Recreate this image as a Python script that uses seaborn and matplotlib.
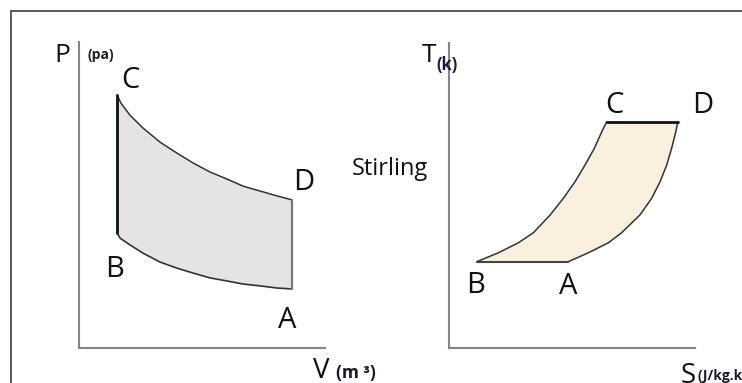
import numpy as np
import matplotlib
matplotlib.use('Agg')
import matplotlib.pyplot as plt
import seaborn as sns
from matplotlib.lines import Line2D

sns.set_style('white')
plt.rcParams['font.family'] = ['Open Sans', 'DejaVu Sans']

# P-V diagram, schematic units
pv_upper_v = [1.55, 1.7, 2.07, 2.6, 3.29, 3.98, 4.63, 5.33, 6.02, 6.67, 7.36, 8.05, 8.66]   # C -> D
pv_upper_p = [8.27, 8.01, 7.61, 7.19, 6.73, 6.37, 6.05, 5.75, 5.52, 5.29, 5.13, 4.97, 4.84]
pv_lower_v = [1.55, 1.67, 2.07, 2.6, 3.29, 3.98, 4.63, 5.33, 6.02, 6.67, 7.36, 8.05, 8.66]  # B -> A
pv_lower_p = [3.76, 3.59, 3.37, 3.1, 2.81, 2.61, 2.45, 2.29, 2.19, 2.09, 2.03, 1.96, 1.93]

# T-S diagram
ts_left_s = [1.13, 2.0, 2.82, 3.43, 4.11, 4.65, 5.12, 5.53, 5.91, 6.21, 6.41]    # B -> C
ts_left_t = [2.83, 3.12, 3.45, 3.78, 4.36, 4.91, 5.45, 6.0, 6.55, 7.09, 7.42]
ts_right_s = [4.85, 5.66, 6.48, 7.02, 7.76, 8.24, 8.58, 8.85, 9.05, 9.22, 9.3]   # A -> D
ts_right_t = [2.83, 3.12, 3.45, 3.78, 4.36, 4.91, 5.45, 6.0, 6.55, 7.09, 7.42]

fig = plt.figure(figsize=(7.42, 3.83), dpi=100)

# thin frame round the picture (top and left only are visible)
fig.add_artist(Line2D([11/742, 1], [1 - 11/383, 1 - 11/383], color='#404040', lw=1.2))
fig.add_artist(Line2D([11/742, 11/742], [0, 1 - 11/383], color='#404040', lw=1.2))

ax1 = fig.add_axes([79/742, 35/383, 246/742, 306/383])
ax2 = fig.add_axes([449/742, 35/383, 246/742, 305/383])
for ax in (ax1, ax2):
    ax.set_xlim(0, 10)
    ax.set_ylim(0, 10)
    ax.set_xticks([])
    ax.set_yticks([])
    ax.patch.set_alpha(0)
    for s in ['top', 'right']:
        ax.spines[s].set_visible(False)
    for s in ['left', 'bottom']:
        ax.spines[s].set_color('#858585')
        ax.spines[s].set_linewidth(1.5)

# ---- P-V ----
ax1.fill(pv_upper_v + pv_lower_v[::-1], pv_upper_p + pv_lower_p[::-1],
         color='#e5e4e2', lw=0)
sns.lineplot(x=pv_upper_v, y=pv_upper_p, sort=False, estimator=None,
             color='#333333', lw=1.1, ax=ax1)
sns.lineplot(x=pv_lower_v, y=pv_lower_p, sort=False, estimator=None,
             color='#333333', lw=1.2, ax=ax1)
ax1.plot([pv_lower_v[0], pv_upper_v[0]], [pv_lower_p[0], pv_upper_p[0]],
         color='#111111', lw=2)
ax1.plot([pv_lower_v[-1], pv_upper_v[-1]], [pv_lower_p[-1], pv_upper_p[-1]],
         color='#7a7a7a', lw=1.6)

big = dict(ha='center', va='baseline', fontsize=21, color='#111111', clip_on=False)
ax1.text(-0.69, 9.35, 'P', **{**big, 'fontsize': 19})
ax1.text(0.89, 9.44, '(pa)', ha='center', va='baseline', fontsize=10,
         fontweight='bold', color='#1a1a2a', clip_on=False)
ax1.text(2.07, 8.5, 'C', **big)
ax1.text(9.15, 5.16, 'D', **big)
ax1.text(1.46, 2.32, 'B', **big)
ax1.text(8.46, 0.65, 'A', **big)
ax1.text(9.84, -0.98, 'V', **{**big, 'fontsize': 20})
ax1.text(11.25, -0.98, '(m ³)', ha='center', va='baseline', fontsize=12.5,
         fontweight='bold', color='#1a1a2a', clip_on=False)

# ---- T-S ----
ax2.fill(ts_left_s + ts_right_s[::-1], ts_left_t + ts_right_t[::-1],
         color='#faf0e0', lw=0)
sns.lineplot(x=ts_left_s, y=ts_left_t, sort=False, estimator=None,
             color='#333333', lw=1.1, ax=ax2)
sns.lineplot(x=ts_right_s, y=ts_right_t, sort=False, estimator=None,
             color='#333333', lw=1.1, ax=ax2)
ax2.plot([ts_left_s[-1], ts_right_s[-1]], [ts_left_t[-1], ts_right_t[-1]],
         color='#111111', lw=2)
ax2.plot([ts_left_s[0], ts_right_s[0]], [ts_left_t[0], ts_right_t[0]],
         color='#444444', lw=1.5)

ax2.text(-0.81, 9.38, 'T', **{**big, 'fontsize': 19})
ax2.text(-0.08, 9.11, '(k)', ha='center', va='baseline', fontsize=12,
         fontweight='bold', color='#1a1a3a', clip_on=False)
ax2.text(-2.4, 5.67, 'Stirling', ha='center', va='baseline', fontsize=17,
         color='#111111', clip_on=False)
ax2.text(6.71, 7.7, 'C', **big)
ax2.text(10.33, 7.7, 'D', **big)
ax2.text(1.1, 1.8, 'B', **big)
ax2.text(4.84, 1.77, 'A', **big)
ax2.text(9.72, -1.15, 'S', **{**big, 'fontsize': 20})
ax2.text(10.12, -1.05, '(J/kg.k)', ha='left', va='baseline', fontsize=10,
         fontweight='bold', color='#1a1a2a', clip_on=False)

fig.savefig('out.png', dpi=100)
